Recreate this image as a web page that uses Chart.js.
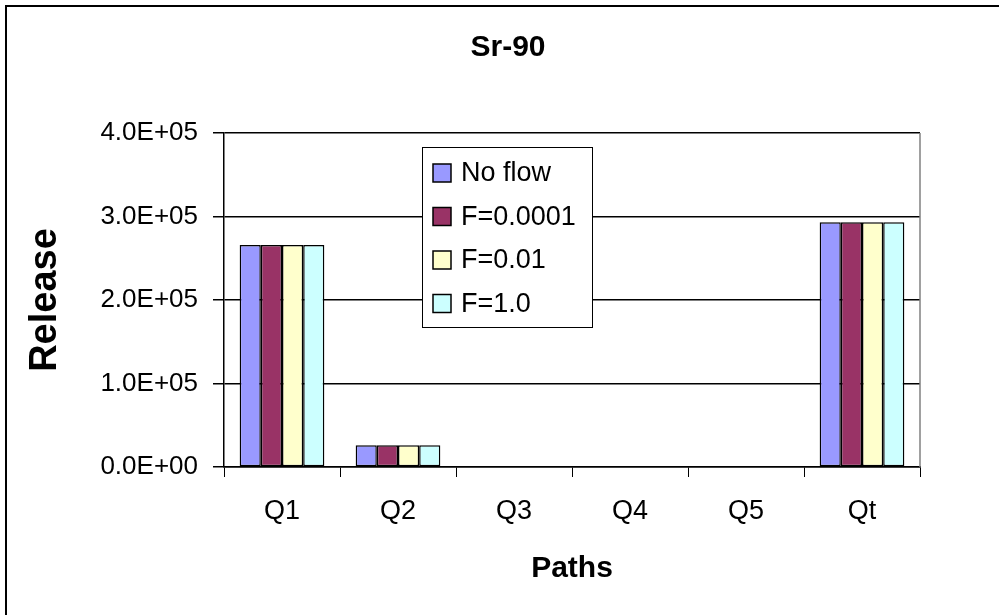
<!DOCTYPE html>
<html>
<head>
<meta charset="utf-8">
<script src="https://cdn.jsdelivr.net/npm/chart.js@4"></script>
<style>
    body { margin: 0; background: #fff; overflow: hidden; }
    #moldura { position: absolute; left: 5px; top: 5px; width: 1200px; height: 800px; border-left: 2px solid #000; border-top: 2px solid #000; pointer-events: none; }
    #grafico { position: absolute; left: 0; top: 0; }
</style>
</head>
<body>
<canvas id="grafico" width="999" height="615"></canvas>
<div id="moldura"></div>
<script>
// dados (Sr-90)
const categorias = ['Q1', 'Q2', 'Q3', 'Q4', 'Q5', 'Qt'];
const rotulosSeries = ['No flow', 'F=0.0001', 'F=0.01', 'F=1.0'];
const semFluxo = [266000, 26000, 0, 0, 0, 293000];
const fluxo00001 = [266000, 26000, 0, 0, 0, 293000];
const fluxo001 = [266000, 26000, 0, 0, 0, 293000];
const fluxo10 = [266000, 26000, 0, 0, 0, 293000];
const ticksY = [0, 100000, 200000, 300000, 400000];

const coresSeries = ['#9999FF', '#993366', '#FFFFCC', '#CCFFFF'];
const fonte = 'Arial, "Liberation Sans", sans-serif';

// formato 4.0E+05 igual ao Excel
function formatoExcel(valor) {
    if (valor == 0) return '0.0E+00';
    var partes = valor.toExponential(1).toUpperCase().split('E');
    var expo = parseInt(partes[1]);
    var sinal = expo < 0 ? '-' : '+';
    var abs = Math.abs(expo);
    return partes[0] + 'E' + sinal + (abs < 10 ? '0' + abs : abs);
}

// titulo e legenda desenhados por cima do grafico
const tituloELegenda = {
    id: 'tituloELegenda',
    afterDraw(chart) {
        const ctx = chart.ctx;
        ctx.save();

        ctx.fillStyle = '#000';
        ctx.font = 'bold 30px ' + fonte;
        ctx.textAlign = 'center';
        ctx.textBaseline = 'middle';
        ctx.fillText('Sr-90', 508, 48);

        // caixa da legenda
        ctx.fillStyle = '#fff';
        ctx.fillRect(422, 147, 170, 180);
        ctx.strokeStyle = '#000';
        ctx.lineWidth = 1;
        ctx.strokeRect(422.5, 147.5, 170, 180);

        ctx.textAlign = 'left';
        ctx.font = '27px ' + fonte;
        chart.data.datasets.forEach(function (ds, i) {
            var cy = 173 + i * 43.5;
            ctx.fillStyle = ds.backgroundColor;
            ctx.fillRect(433, cy - 9, 18, 18);
            ctx.lineWidth = 1.5;
            ctx.strokeStyle = '#000';
            ctx.strokeRect(433, cy - 9, 18, 18);
            ctx.fillStyle = '#000';
            ctx.fillText(ds.label, 461, cy + 1);
        });

        // borda cinza do lado direito da area do grafico
        const area = chart.chartArea;
        ctx.strokeStyle = '#808080';
        ctx.lineWidth = 1.5;
        ctx.beginPath();
        ctx.moveTo(area.right, area.top);
        ctx.lineTo(area.right, area.bottom);
        ctx.stroke();
        ctx.restore();
    }
};

let dadosGrafico = {
    labels: categorias,
    datasets: [semFluxo, fluxo00001, fluxo001, fluxo10].map(function (serie, i) {
        return {
            label: rotulosSeries[i],
            data: serie,
            backgroundColor: coresSeries[i],
            borderColor: '#000',
            borderWidth: 1.5,
            borderSkipped: false,
            categoryPercentage: 0.73,
            barPercentage: 1.0
        };
    })
};

const configChart = {
    type: 'bar',
    data: dadosGrafico,
    plugins: [tituloELegenda],
    options: {
        responsive: false,
        animation: false,
        devicePixelRatio: 1,
        layout: { padding: { left: 8, top: 133, right: 79, bottom: 0 } },
        plugins: {
            legend: { display: false },
            title: { display: false },
            tooltip: { enabled: false }
        },
        scales: {
            x: {
                afterFit: function (scale) { scale.height = 148; },
                grid: { drawOnChartArea: false, drawTicks: true, tickLength: 10, offset: true, color: '#000' },
                border: { color: '#000', width: 1.5 },
                ticks: { color: '#000', font: { family: fonte, size: 27 }, padding: 18 },
                title: { display: true, text: 'Paths', color: '#000', font: { family: fonte, size: 30, weight: 'bold' }, padding: { top: 0, bottom: 28 } }
            },
            y: {
                min: ticksY[0],
                max: ticksY[ticksY.length - 1],
                afterFit: function (scale) { scale.width = 216; },
                afterBuildTicks: function (scale) { scale.ticks = ticksY.map(function (v) { return { value: v }; }); },
                grid: { color: '#000', lineWidth: 1.5, tickLength: 11 },
                border: { color: '#000', width: 1.5 },
                ticks: { color: '#000', font: { family: fonte, size: 26 }, padding: 15, callback: formatoExcel },
                title: { display: true, text: 'Release', color: '#000', font: { family: fonte, size: 38, weight: 'bold' }, padding: { top: 15, bottom: 0 } }
            }
        }
    }
};

const grafico = document.getElementById('grafico');
let myChart = new Chart(grafico, configChart);
</script>
</body>
</html>
